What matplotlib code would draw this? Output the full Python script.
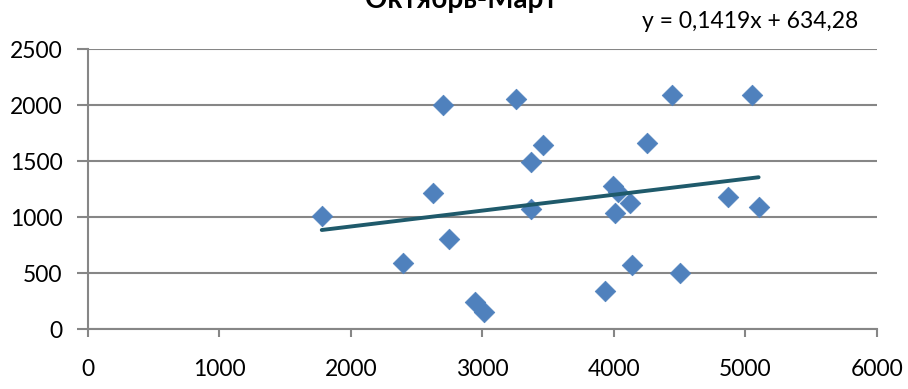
import numpy as np
import matplotlib
matplotlib.use('Agg')
import matplotlib.pyplot as plt

# données
x_vals = [1780, 2395, 2625, 2700, 2750, 2945, 3015, 3255, 3370, 3370, 3460, 3935,
          3995, 4035, 4010, 4125, 4135, 4255, 4440, 4500, 4870, 5050, 5100]
y_vals = [1010, 595, 1220, 2005, 805, 240, 150, 2055, 1495, 1070, 1650, 340,
          1280, 1225, 1035, 1130, 575, 1665, 2090, 505, 1185, 2090, 1090]

# courbe de tendance (équation affichée)
slope = 0.1419
intercept = 634.28
eq_label = 'y = 0,1419x + 634,28'
title = 'Октябрь-Март'

x_ticks = [0, 1000, 2000, 3000, 4000, 5000, 6000]
y_ticks = [0, 500, 1000, 1500, 2000, 2500]

plt.rcParams['font.family'] = ['Lato', 'DejaVu Sans']
grey = '#868686'

fig = plt.figure(figsize=(9.08, 3.89), dpi=100)
ax = fig.add_axes([0.0964, 0.1535, 0.8695, 0.7195])

ax.scatter(x_vals, y_vals, marker='D', s=10.5 ** 2, color='#4F81BD',
           edgecolors='#4F81BD', linewidths=0.5, zorder=3)

x_line = np.array([min(x_vals), max(x_vals)])
ax.plot(x_line, slope * x_line + intercept, color='#1F5A6B', lw=2.8,
        solid_capstyle='round', zorder=4)

ax.set_xlim(0, 6000)
ax.set_ylim(0, 2500)
ax.set_xticks(x_ticks)
ax.set_yticks(y_ticks)
ax.yaxis.grid(True, color=grey, lw=1.5)
ax.set_axisbelow(True)

for s in ['top', 'right']:
    ax.spines[s].set_visible(False)
for s in ['left', 'bottom']:
    ax.spines[s].set_color(grey)
    ax.spines[s].set_linewidth(1.5)

ax.tick_params(axis='x', colors=grey, length=6, width=1.5, pad=15.5,
               labelcolor='black', labelsize=16.5)
ax.tick_params(axis='y', colors=grey, length=8, width=1.5, pad=10,
               labelcolor='black', labelsize=16.5)

# titre coupé en haut comme sur l'original
fig.text(0.508, 1 - 8 / 389, title, ha='center', va='baseline',
         fontsize=20, fontweight='bold')
fig.text(0.945, 1 - 21 / 389, eq_label, ha='right', va='center', fontsize=16.5)

fig.savefig('out.png', dpi=100)
